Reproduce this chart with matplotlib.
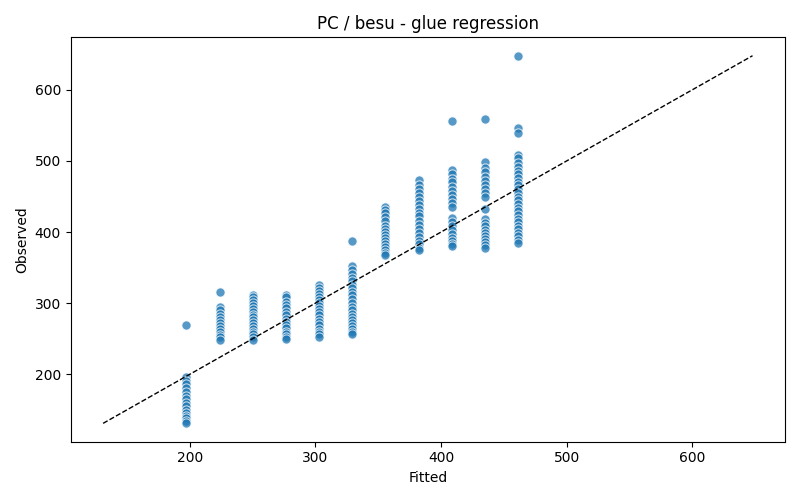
import numpy as np
import matplotlib
matplotlib.use("Agg")
import matplotlib.pyplot as plt

fitted_levels = [197.3, 223.7, 250.1, 276.5, 302.9, 329.3, 355.7, 382.1, 408.5, 434.9, 461.3]

observed_groups = [
    [270, 196, 191, 186, 180, 175, 170, 165, 160, 155, 150, 146, 142, 138, 134, 131],
    [316, 295, 290, 285, 280, 276, 272, 268, 264, 260, 255, 252, 248],
    [311, 308, 305, 300, 296, 292, 288, 284, 280, 276, 272, 268, 264, 260, 256, 252, 248],
    [312, 308, 302, 298, 293, 288, 283, 278, 274, 270, 265, 260, 256, 252, 249],
    [325, 321, 317, 313, 309, 305, 300, 296, 292, 288, 283, 278, 274, 269, 264, 260, 256, 252],
    [387, 352, 346, 341, 336, 331, 326, 321, 316, 311, 306, 300, 295, 290, 285, 280, 276,
     272, 268, 264, 260, 257],
    [435, 431, 427, 421, 415, 408, 404, 400, 396, 392, 387, 383, 379, 375, 371, 368],
    [473, 466, 460, 455, 449, 444, 438, 433, 427, 422, 416, 410, 404, 398, 393, 388, 383,
     378, 375],
    [556, 487, 481, 475, 470, 463, 458, 452, 447, 441, 435, 420, 414, 408, 403, 397, 392,
     387, 383, 381],
    [559, 499, 490, 484, 478, 472, 466, 460, 455, 450, 432, 418, 413, 408, 403, 398, 394,
     390, 386, 382, 378],
    [648, 547, 540, 509, 504, 497, 491, 486, 481, 476, 471, 466, 461, 455, 450, 445, 440,
     434, 429, 424, 419, 414, 409, 404, 399, 394, 389, 384],
]

fitted = np.concatenate([[f] * len(g) for f, g in zip(fitted_levels, observed_groups)])
observed = np.concatenate(observed_groups)

lo = min(fitted.min(), observed.min())
hi = max(fitted.max(), observed.max())

fig, ax = plt.subplots(figsize=(8, 5), dpi=100)
ax.scatter(fitted, observed, s=44, color="#1f77b4", alpha=0.75,
           edgecolor="white", linewidth=0.75)
ax.plot([lo, hi], [lo, hi], "k--", linewidth=1)
ax.set_xlabel("Fitted")
ax.set_ylabel("Observed")
ax.set_title("PC / besu - glue regression")
fig.tight_layout()
fig.savefig("out.png", dpi=100)
